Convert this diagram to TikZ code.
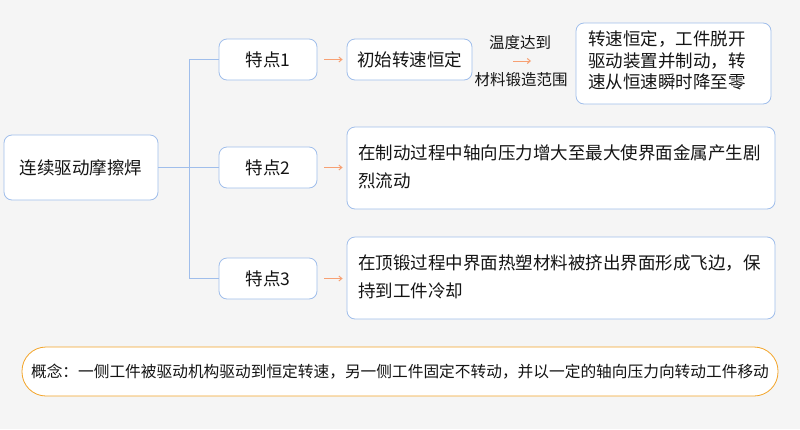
\documentclass[tikz,border=0pt]{standalone}
\usepackage{fontspec}
\newfontfamily\cjk{Noto Sans CJK SC}
\usetikzlibrary{arrows.meta}
\definecolor{bgc}{RGB}{245,245,245}
\definecolor{bblue}{RGB}{160,190,235}
\definecolor{borange}{RGB}{243,164,40}
\definecolor{aorange}{RGB}{247,160,115}
\definecolor{txt}{RGB}{20,20,20}
\tikzset{
  box/.style={draw=bblue, fill=white, rounded corners=8pt, line width=0.8pt, inner sep=0pt, text=txt, font=\cjk\fontsize{17.5}{28}\selectfont},
  wbox/.style={box, align=left, inner xsep=11pt},
  link/.style={draw=bblue, line width=0.8pt},
  oarrow/.style={draw=aorange, line width=1pt, -{Straight Barb[length=3pt,width=5pt]}},
  lbl/.style={text=txt, inner sep=0pt, font=\cjk\fontsize{15.5}{18}\selectfont}
}
\begin{document}
\begin{tikzpicture}[x=1pt,y=-1pt]
\fill[bgc] (0,0) rectangle (800,429);
\useasboundingbox (0,0) rectangle (800,429);

\node[box, minimum width=154pt, minimum height=65pt] (main) at (81,167.5) {连续驱动摩擦焊};

\node[box, minimum width=98pt, minimum height=41pt] (t1) at (268,59.5) {特点1};
\node[box, minimum width=98pt, minimum height=41pt] (t2) at (268,167.5) {特点2};
\node[box, minimum width=98pt, minimum height=41pt] (t3) at (268,278.5) {特点3};

\node[box, minimum width=125pt, minimum height=41pt] (c1) at (409.5,59.5) {初始转速恒定};
\node[wbox, text width=406pt, minimum height=82pt] (c2) at (561,168) {在制动过程中轴向压力增大至最大使界面金属产生剧\\烈流动\rule[-4pt]{0pt}{4pt}};
\node[wbox, text width=406pt, minimum height=82pt] (c3) at (561,278) {在顶锻过程中界面热塑材料被挤出界面形成飞边，保\\持到工件冷却\rule[-4pt]{0pt}{4pt}};
\node[box, align=left, inner xsep=12pt, text width=171pt, minimum height=81pt, font=\cjk\fontsize{17.5}{21.5}\selectfont] (r1) at (673.5,63.5) {转速恒定，工件脱开\\驱动装置并制动，转\\速从恒速瞬时降至零\rule[-7pt]{0pt}{7pt}};

\node[box, draw=borange, rounded corners=24pt, minimum width=756pt, minimum height=49pt, font=\cjk\fontsize{15.7}{18}\selectfont] (concept) at (400,371.5) {概念：一侧工件被驱动机构驱动到恒定转速，另一侧工件固定不转动，并以一定的轴向压力向转动工件移动};

% tree links
\draw[link] (main.east) -- (t2.west);
\draw[link] (t1.west) -- ++(-29,0) |- (t3.west);

% arrows to contents
\draw[oarrow] ([xshift=7pt]t1.east) -- ([xshift=-4pt]c1.west);
\draw[oarrow] ([xshift=7pt]t2.east) -- ([xshift=-4pt]c2.west|-t2.east);
\draw[oarrow] ([xshift=7pt]t3.east) -- ([xshift=-4pt]c3.west|-t3.east);

% labelled arrow
\coordinate (as) at (513,61);
\coordinate (ae) at (531,61);
\draw[oarrow] (as) -- (ae);
\node[lbl] (l1) at (520,42.5) {温度达到};
\node[lbl] (l2) at (521,80) {材料锻造范围};
\end{tikzpicture}
\end{document}
